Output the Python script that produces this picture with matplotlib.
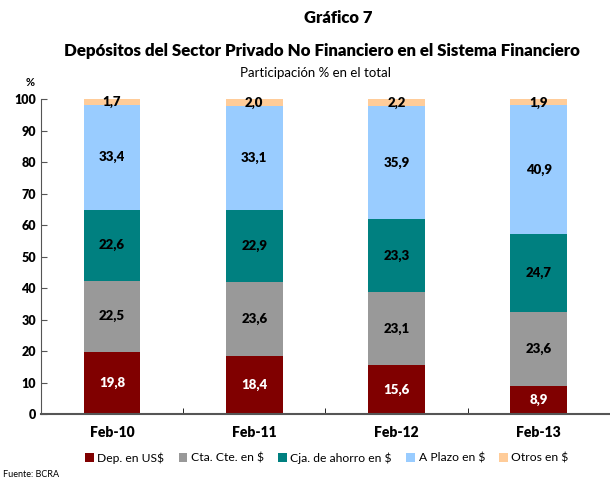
import numpy as np
import matplotlib.pyplot as plt
from matplotlib.patches import Patch

plt.rcParams['font.family'] = ['Lato', 'DejaVu Sans']

# Data
categories = ['Feb-10', 'Feb-11', 'Feb-12', 'Feb-13']
series_names = ['Dep. en US$', 'Cta. Cte. en $', 'Cja. de ahorro en $', 'A Plazo en $', 'Otros en $']
dep_usd = [19.8, 18.4, 15.6, 8.9]
cta_cte = [22.5, 23.6, 23.1, 23.6]
cja_ahorro = [22.6, 22.9, 23.3, 24.7]
a_plazo = [33.4, 33.1, 35.9, 40.9]
otros = [1.7, 2.0, 2.2, 1.9]

colors = ['#800000', '#999999', '#008080', '#99CCFF', '#FFCC99']
label_colors = ['white', 'black', 'black', 'black', 'black']

fig = plt.figure(figsize=(6.10, 4.79), dpi=100)
ax = fig.add_axes([0.067, 0.1357, 0.933, 0.6566])

x = np.arange(len(categories))
bottom = np.zeros(len(categories))
for vals, col, lc in zip([dep_usd, cta_cte, cja_ahorro, a_plazo, otros], colors, label_colors):
    vals = np.array(vals)
    ax.bar(x, vals, width=0.4, bottom=bottom, color=col)
    for xi, b, v in zip(x, bottom, vals):
        ax.text(xi, b + v / 2, f'{v:.1f}'.replace('.', ','), ha='center', va='center',
                fontsize=9.5, fontweight='heavy', color=lc)
    bottom += vals

ax.set_xlim(-0.5, 3.5)
ax.set_ylim(0, 100)
ax.set_yticks(range(0, 101, 10))
ax.set_xticks(x)
ax.set_xticklabels(categories, fontsize=10, fontweight='heavy')
ax.set_xticks([0.5, 1.5, 2.5], minor=True)
ax.tick_params(axis='x', which='major', length=0, pad=9)
ax.tick_params(axis='x', which='minor', direction='in', length=4, color='black')
ax.tick_params(axis='y', direction='in', length=4, labelsize=9, color='#555555')
for lbl in ax.get_yticklabels():
    lbl.set_fontweight('heavy')

for s in ['top', 'right']:
    ax.spines[s].set_visible(False)
ax.spines['left'].set_color('#555555')
ax.spines['bottom'].set_color('#555555')
ax.spines['bottom'].set_linewidth(1.5)

fig.text(0.555, 0.962, 'Gráfico 7', ha='center', va='center', fontsize=12, fontweight='heavy')
fig.text(0.527, 0.893, 'Depósitos del Sector Privado No Financiero en el Sistema Financiero',
         ha='center', va='center', fontsize=12.2, fontweight='heavy')
fig.text(0.518, 0.848, 'Participación % en el total', ha='center', va='center', fontsize=9.5)
fig.text(0.049, 0.827, '%', ha='center', va='center', fontsize=8, fontweight='bold')
fig.text(0.005, 0.001, 'Fuente: BCRA', ha='left', va='bottom', fontsize=6.5)

handles = [Patch(facecolor=c) for c in colors]
fig.legend(handles, series_names, loc='center', bbox_to_anchor=(0.536, 0.044), ncol=5,
           frameon=False, fontsize=8.7, handlelength=0.7, handleheight=0.7,
           handletextpad=0.3, columnspacing=1.2)

fig.savefig('out.png', dpi=100)
